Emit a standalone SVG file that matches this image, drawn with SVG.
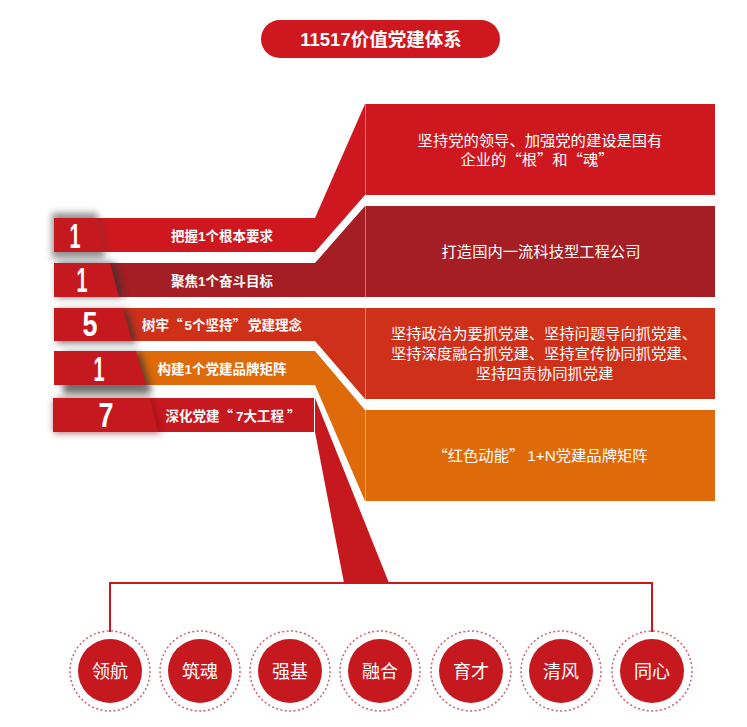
<svg xmlns="http://www.w3.org/2000/svg" width="747" height="727" viewBox="0 0 747 727">
<style>
text{font-family:"Noto Sans CJK SC","Liberation Sans",sans-serif;fill:#fff;text-anchor:middle}
tspan.l{font-family:"Liberation Sans",sans-serif}
.t{font-size:15.3px}
.b{font-size:13.5px;font-weight:bold}
.n{font-family:"Liberation Sans Narrow","Liberation Sans",sans-serif;font-size:35px;font-weight:bold}
.badge{fill:#c6181f}
.sep{stroke:#fff;stroke-opacity:.4;stroke-width:1}
.ring{fill:none;stroke:#c6354a;stroke-width:1.5;stroke-dasharray:2 2.4;stroke-opacity:.8}
.disc{fill:#c6181f}
.c{font-size:18px}
</style>
<defs>
<filter id="sh" x="-30%" y="-50%" width="160%" height="200%"><feGaussianBlur stdDeviation="3.5"/></filter>
</defs>
<g id="title"><rect x="261" y="20" width="239" height="38" rx="19" fill="#ce171e"/><text x="381" y="46" font-size="18.500" font-weight="bold"><tspan class="l">11517</tspan>价值党建体系</text></g>
<g id="connectors">
<path d="M315 398V432L344 583H389Z" fill="#c6181f"/>
<path d="M110 632V583H652V632" fill="none" stroke="#c6181f" stroke-width="2"/>
</g>
<g id="node-1">
<path d="M54 218H315L365 104H715V195H365L315 252H54Z" fill="#ce171e"/>
<path class="sep" d="M365.500 104V195"/>
<path d="M52 213H97L105 252V258H52Z" fill="#444" opacity=".6" filter="url(#sh)"/>
<path class="badge" d="M54 218H97L105 252H54Z"/>
<text class="n" x="75" y="248" textLength="11" lengthAdjust="spacingAndGlyphs">1</text>
<text class="b" x="222" y="241">把握<tspan class="l">1</tspan>个根本要求</text>
<text class="t" x="540" y="146">坚持党的领导、加强党的建设是国有</text>
<text class="t" x="537" y="165">企业的“根”和“魂”</text>
</g>
<g id="node-2">
<path d="M54 263H315L365 206H715V297H54Z" fill="#a41e24"/>
<path class="sep" d="M365.500 206V297"/>
<path d="M112 263 121 297 54 297V263Z" fill="#333" opacity=".7" filter="url(#sh)" transform="translate(3 0)"/>
<path class="badge" d="M54 263H110L119 297H54Z"/>
<text class="n" x="82" y="292" textLength="11" lengthAdjust="spacingAndGlyphs">1</text>
<text class="b" x="222" y="286">聚焦<tspan class="l">1</tspan>个奋斗目标</text>
<text class="t" x="541" y="257">打造国内一流科技型工程公司</text>
</g>
<g id="node-3">
<path d="M54 308H365 715V399H365L315 341H54Z" fill="#cf3019"/>
<path class="sep" d="M365.500 308V399"/>
<path d="M125 308 134 341 54 341V308Z" fill="#333" opacity=".7" filter="url(#sh)" transform="translate(3 2)"/>
<path class="badge" d="M54 308H123L132 341H54Z"/>
<text class="n" x="90" y="336" textLength="15" lengthAdjust="spacingAndGlyphs">5</text>
<text class="b" x="222" y="330">树牢“<tspan class="l" dx="2">5</tspan>个坚持”<tspan dx="2">党建理念</tspan></text>
<text class="t" x="544" y="339">坚持政治为要抓党建、坚持问题导向抓党建、</text>
<text class="t" x="544" y="359">坚持深度融合抓党建、坚持宣传协同抓党建、</text>
<text class="t" x="544.500" y="379">坚持四责协同抓党建</text>
</g>
<g id="node-4">
<path d="M54 351H315L365 410H715V501H365L315 385H54Z" fill="#df6a0a"/>
<path class="sep" d="M365.500 410V501"/>
<path d="M138 351 148 385V392H60V351Z" fill="#333" opacity=".7" filter="url(#sh)" transform="translate(3 2)"/>
<path class="badge" d="M54 351H136L146 385H54Z"/>
<text class="n" x="99" y="381" textLength="11" lengthAdjust="spacingAndGlyphs">1</text>
<text class="b" x="222" y="374">构建<tspan class="l">1</tspan>个党建品牌矩阵</text>
<text class="t" x="540" y="461">“红色动能”<tspan class="l" dx="3">1+N</tspan>党建品牌矩阵</text>
</g>
<g id="node-5">
<path d="M53 398H314V432H53Z" fill="#c6181f"/>
<path class="sep" d="M314.500 398V432"/>
<path d="M150 398 160 432 53 432V398Z" fill="#7a1015" opacity=".6" filter="url(#sh)" transform="translate(1 1)"/>
<path class="badge" d="M53 398H150L158 432H53Z"/>
<text class="n" x="106" y="427" textLength="15" lengthAdjust="spacingAndGlyphs">7</text>
<text class="b" x="233" y="421">深化党建“<tspan class="l" dx="3">7</tspan>大工程<tspan dx="3">”</tspan></text>
</g>
<g id="c1"><circle class="ring" cx="110" cy="671" r="40"/><circle class="disc" cx="110" cy="671" r="32"/><text class="c" x="110" y="678">领航</text></g>
<g id="c2"><circle class="ring" cx="200" cy="671" r="40"/><circle class="disc" cx="200" cy="671" r="32"/><text class="c" x="200" y="678">筑魂</text></g>
<g id="c3"><circle class="ring" cx="290" cy="671" r="40"/><circle class="disc" cx="290" cy="671" r="32"/><text class="c" x="290" y="678">强基</text></g>
<g id="c4"><circle class="ring" cx="380" cy="671" r="40"/><circle class="disc" cx="380" cy="671" r="32"/><text class="c" x="380" y="678">融合</text></g>
<g id="c5"><circle class="ring" cx="471" cy="671" r="40"/><circle class="disc" cx="471" cy="671" r="32"/><text class="c" x="471" y="678">育才</text></g>
<g id="c6"><circle class="ring" cx="561" cy="671" r="40"/><circle class="disc" cx="561" cy="671" r="32"/><text class="c" x="561" y="678">清风</text></g>
<g id="c7"><circle class="ring" cx="652" cy="671" r="40"/><circle class="disc" cx="652" cy="671" r="32"/><text class="c" x="652" y="678">同心</text></g>
</svg>
